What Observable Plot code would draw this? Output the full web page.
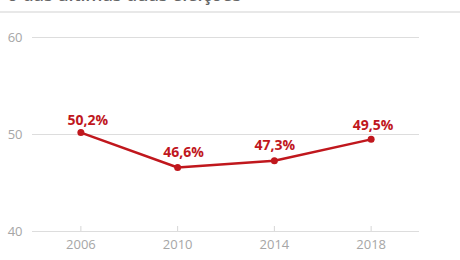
<!DOCTYPE html>
<html>
<head>
<meta charset="utf-8">
<script src="https://cdn.jsdelivr.net/npm/d3@7"></script>
<script src="https://cdn.jsdelivr.net/npm/@observablehq/plot@0.6"></script>
<style>
  html, body { margin: 0; padding: 0; background: #fff; width: 460px; height: 260px; overflow: hidden; }
  #head { position: relative; height: 11px; border-bottom: 2px solid #e8e8e8; overflow: visible; }
  #sub { position: absolute; left: 7px; top: -18px; font: 600 18px "Open Sans", sans-serif; color: #666; white-space: nowrap; letter-spacing: -0.1px; }
  #chart svg { display: block; }
  #chart svg text.lbl { letter-spacing: -0.7px; }
</style>
</head>
<body>
<div id="head"><div id="sub">o das últimas duas eleições</div></div>
<div id="chart"></div>
<script>
const years = [2006, 2010, 2014, 2018];
const values = [50.2, 46.6, 47.3, 49.5];
const labels = ["50,2%", "46,6%", "47,3%", "49,5%"];
const yTicks = [40, 50, 60];
const xDomain = [2004, 2020];
const yDomain = [40, 60];

const data = years.map((y, i) => ({year: y, value: values[i], label: labels[i]}));

// label nudges (style only), per point as placed in the reference
const nudges = [[7, -12], [6, -15], [0.5, -15.5], [2, -14]];

const red = "#c0171d";
const textMarks = nudges.map(([dx, dy], i) =>
  Plot.text(data, {filter: (d, j) => j === i, x: "year", y: "value", text: "label", dx, dy,
    fill: red, fontSize: 14, fontWeight: "bold", className: "lbl"}));

const chart = Plot.plot({
  width: 460,
  height: 247,
  marginLeft: 32,
  marginRight: 41,
  marginTop: 24,
  marginBottom: 29,
  style: {fontFamily: "'Open Sans', sans-serif", background: "#fff"},
  x: {domain: xDomain, ticks: years, tickFormat: d => String(d)},
  y: {domain: yDomain, ticks: yTicks},
  marks: [
    Plot.gridY(yTicks, {stroke: "#dddddd", strokeOpacity: 1, strokeWidth: 1}),
    Plot.ruleX(years, {x: d => d, y1: yDomain[0], y2: yDomain[0], insetTop: -5, stroke: "#d6d6d6"}),
    Plot.axisY(yTicks, {tickSize: 0, tickPadding: 10, fontSize: 13, fill: "#a6a6a6", label: null}),
    Plot.axisX(years, {tickSize: 0, tickPadding: 8, fontSize: 13, fill: "#a6a6a6", label: null, tickFormat: d => String(d)}),
    Plot.line(data, {x: "year", y: "value", stroke: red, strokeWidth: 2.5}),
    Plot.dot(data, {x: "year", y: "value", fill: red, r: 3.5}),
    ...textMarks
  ]
});
document.getElementById("chart").appendChild(chart);
</script>
</body>
</html>
